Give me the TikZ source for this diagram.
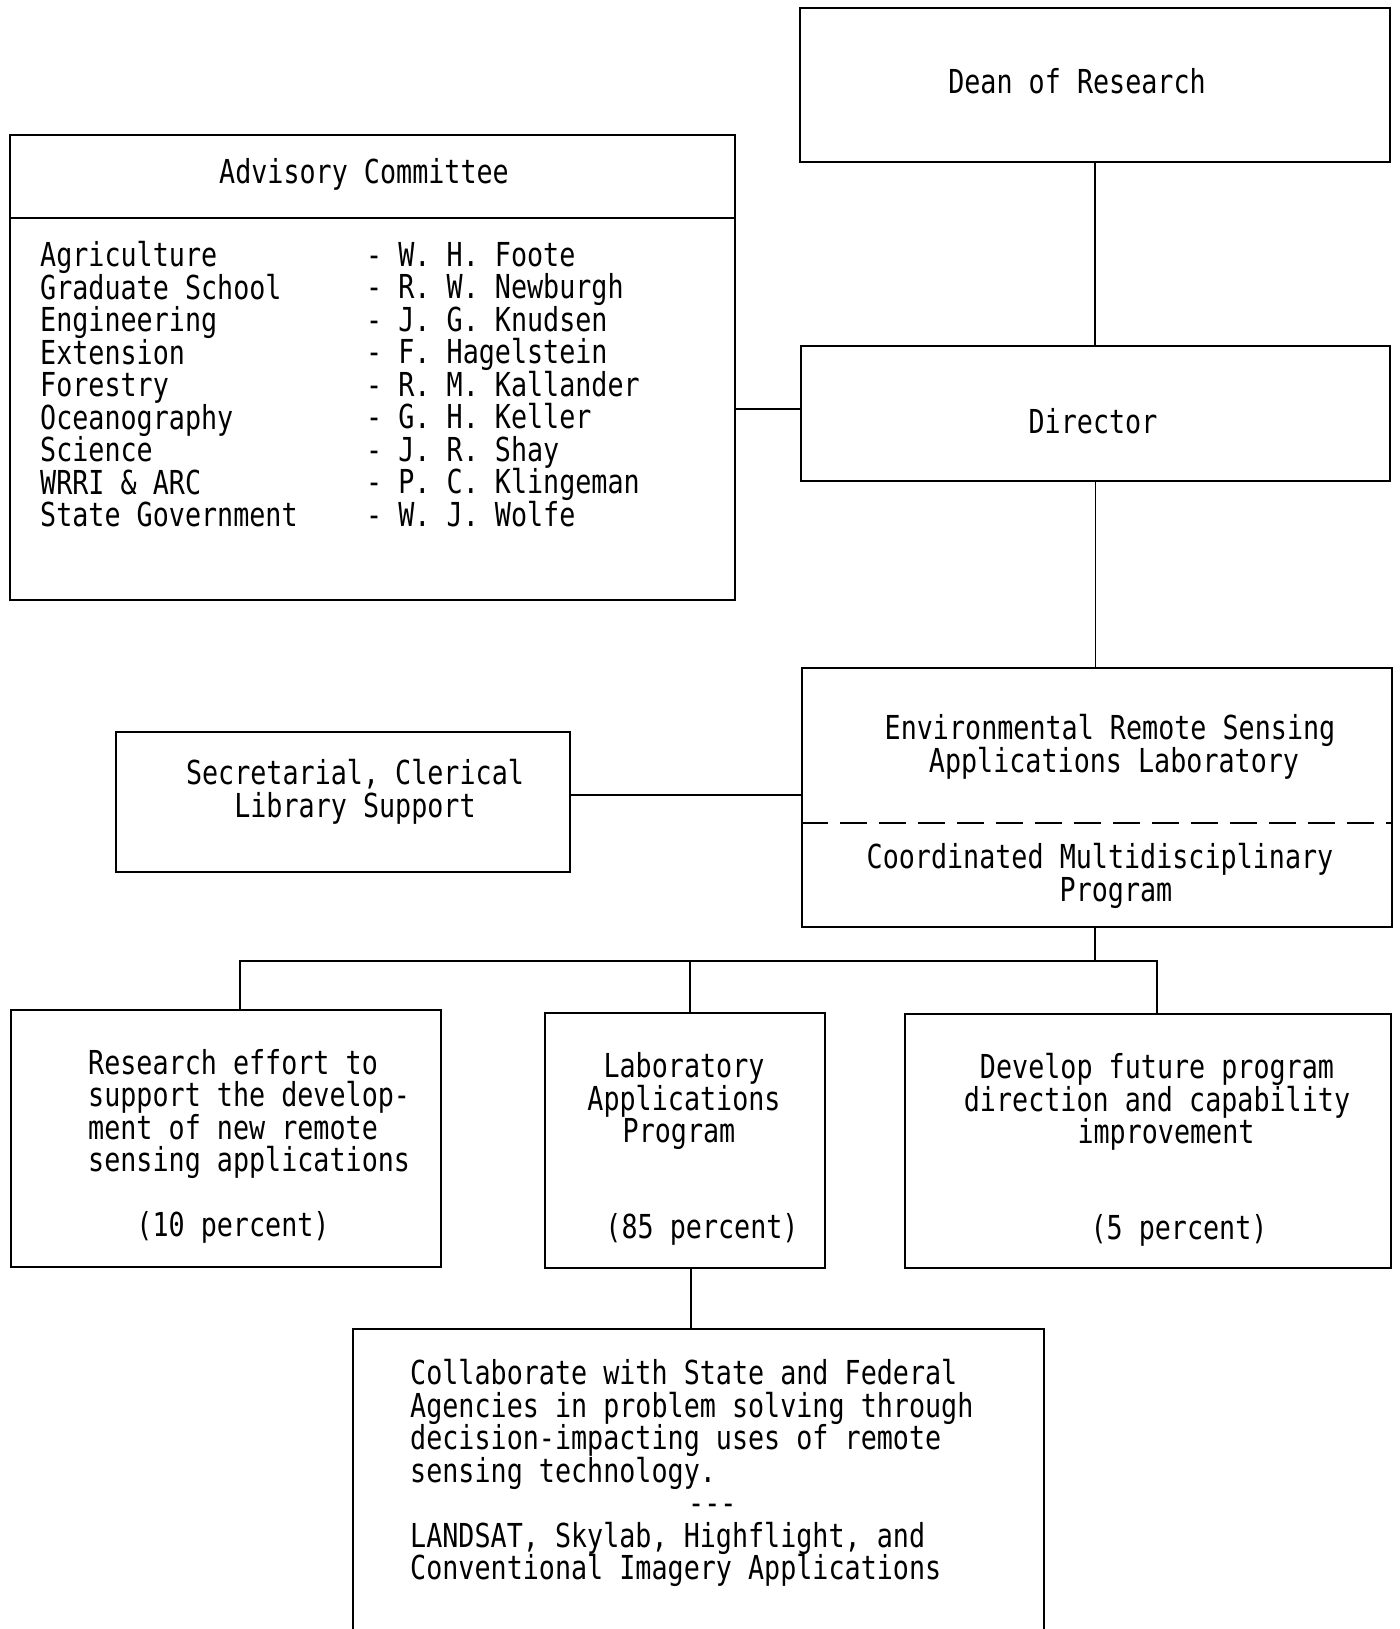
\documentclass[tikz,border=0pt]{standalone}
\usepackage{fontspec}
\newfontfamily\labfont[FakeStretch=0.81]{DejaVu Sans Mono}

\tikzset{
  box/.style={draw, line width=2pt, inner sep=0pt},
  link/.style={draw, line width=1.6pt},
  txt/.style={inner sep=0pt, align=center, font=\labfont\fontsize{33}{32.5}\selectfont},
  lefttxt/.style={txt, align=left, anchor=west}
}

\begin{document}
\begin{tikzpicture}[x=1pt,y=-1pt]
  \useasboundingbox (0,0) rectangle (1399,1629);

  \node[box, minimum width=590, minimum height=154] (dean) at (1095,85) {};
  \node[box, minimum width=725, minimum height=465] (adv) at (372.5,367.5) {};
  \node[box, minimum width=589, minimum height=135] (dir) at (1095.5,413.5) {};
  \node[box, minimum width=590, minimum height=259] (lab) at (1097,797.5) {};
  \node[box, minimum width=454, minimum height=140] (sec) at (343,802) {};
  \node[box, minimum width=430, minimum height=257] (res) at (226,1138.5) {};
  \node[box, minimum width=280, minimum height=255] (lapp) at (685,1140.5) {};
  \node[box, minimum width=486, minimum height=254] (dev) at (1148,1141) {};
  \node[box, minimum width=691, minimum height=320] (col) at (698.5,1489) {};

  \draw[box] (adv.west |- 0,218) -- (adv.east |- 0,218);
  \draw[box, line width=1.6pt, dash pattern=on 27pt off 12pt] (lab.west |- 0,823) -- (lab.east |- 0,823);

  \node[txt] (deantxt) at (1077,81) {Dean of Research};
  \node[txt] (advtxt) at (364,174) {Advisory Committee};
  \node[lefttxt] (fields) at (40,384.5) {Agriculture\\Graduate School\\Engineering\\Extension\\Forestry\\Oceanography\\Science\\WRRI \& ARC\\State Government};
  \node[lefttxt] (members) at (366,384.5) {- W. H. Foote\\- R. W. Newburgh\\- J. G. Knudsen\\- F. Hagelstein\\- R. M. Kallander\\- G. H. Keller\\- J. R. Shay\\- P. C. Klingeman\\- W. J. Wolfe};
  \node[txt] (dirtxt) at (1093,421) {Director};
  \node[txt] (labtxt) at (1110,747) {Environmental Remote Sensing\\\hspace*{8pt}Applications Laboratory};
  \node[txt] (cmptxt) at (1100,876) {Coordinated Multidisciplinary\\\hspace*{32pt}Program};
  \node[txt] (sectxt) at (355,792) {Secretarial, Clerical\\Library Support};
  \node[lefttxt] (restxt) at (88,1114) {Research effort to\\support the develop-\\ment of new remote\\sensing applications};
  \node[txt] (respct) at (233,1227) {(10 percent)};
  \node[txt] (lapptxt) at (684,1101) {Laboratory\\Applications\\Program\hspace*{10pt}};
  \node[txt] (lapppct) at (702,1229) {(85 percent)};
  \node[txt] (devtxt) at (1157,1102) {Develop future program\\direction and capability\\\hspace*{18pt}improvement};
  \node[txt] (devpct) at (1179,1230) {(5 percent)};
  \node[lefttxt] (coltxt) at (410,1473) {Collaborate with State and Federal\\Agencies in problem solving through\\decision-impacting uses of remote\\sensing technology.\\\hspace*{278pt}-{}-{}-\\LANDSAT, Skylab, Highflight, and\\Conventional Imagery Applications};

  % connectors
  \draw[link] (dean.south) -- (dean.south |- dir.north);
  \draw[link] ([yshift=4.5]dir.west) -- ([yshift=4.5]dir.west -| adv.east);
  \draw[link] (dir.south) -- (dir.south |- lab.north);
  \draw[link] ([yshift=2.5]lab.west) -- ([yshift=2.5]lab.west -| sec.east);
  \coordinate (bus) at (1095,961);
  \draw[link] (lab.south -| bus) -- (bus);
  \draw[link] ([xshift=14]res.north) |- ([xshift=9]dev.north |- bus) -- ([xshift=9]dev.north);
  \draw[link] ([xshift=5]lapp.north) -- ([xshift=5]lapp.north |- bus);
  \draw[link] ([xshift=6]lapp.south) -- ([xshift=6]lapp.south |- col.north);
\end{tikzpicture}
\end{document}
